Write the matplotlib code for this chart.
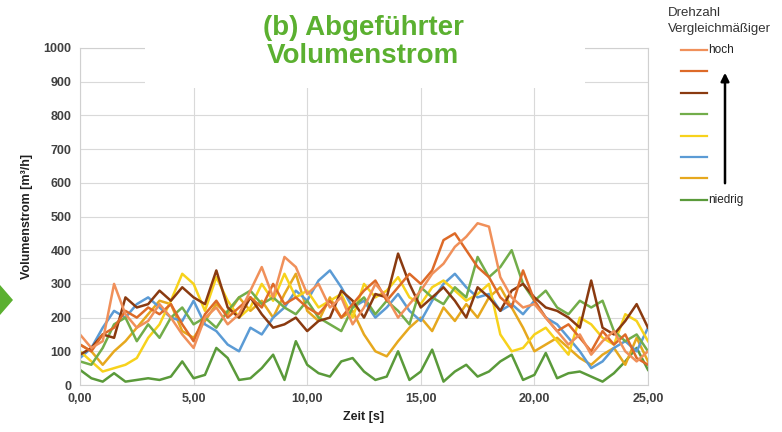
import matplotlib
matplotlib.use('Agg')
import matplotlib.pyplot as plt
from matplotlib.patches import Rectangle, Polygon, FancyArrowPatch
from matplotlib.lines import Line2D
import numpy as np

plt.rcParams['font.family'] = ['Liberation Sans', 'DejaVu Sans']

# Zeit in s (Schrittweite 0,5 s)
zeit = np.arange(0, 25.01, 0.5)

# Volumenstrom [m³/h], von hoher zu niedriger Drehzahl
hoch = [150, 110, 130, 300, 210, 170, 190, 240, 200, 150, 110, 200, 230, 180, 210, 280, 350,
        260, 380, 350, 270, 300, 230, 260, 180, 230, 300, 260, 200, 240, 280, 330, 360, 410,
        440, 480, 470, 320, 260, 230, 240, 200, 160, 120, 150, 90, 130, 160, 100, 70, 100]
stufe2 = [120, 100, 150, 170, 220, 200, 230, 210, 240, 180, 130, 210, 250, 200, 230, 260, 230,
          300, 240, 260, 230, 210, 250, 200, 240, 280, 310, 250, 290, 330, 300, 340, 430, 450,
          400, 350, 320, 260, 230, 340, 250, 200, 160, 180, 140, 100, 160, 120, 150, 80, 60]
stufe3 = [90, 110, 150, 140, 260, 230, 240, 280, 250, 290, 260, 240, 340, 230, 200, 260, 210,
          170, 180, 200, 160, 190, 200, 280, 250, 200, 270, 260, 390, 300, 230, 260, 290, 250,
          200, 290, 260, 220, 280, 300, 260, 230, 220, 200, 170, 310, 170, 150, 190, 240, 170]
stufe4 = [70, 60, 110, 180, 200, 130, 180, 140, 200, 230, 180, 200, 170, 220, 260, 280, 240,
          260, 230, 210, 250, 200, 180, 160, 230, 260, 210, 250, 220, 180, 290, 260, 240, 290,
          260, 380, 320, 350, 400, 300, 250, 280, 230, 210, 250, 230, 250, 160, 130, 150, 100]
stufe5 = [100, 70, 40, 50, 60, 80, 140, 180, 250, 330, 300, 220, 320, 250, 200, 230, 300,
          250, 330, 260, 280, 230, 250, 270, 200, 300, 260, 280, 320, 260, 240, 290, 310, 280,
          250, 270, 300, 150, 100, 110, 150, 170, 130, 90, 200, 180, 140, 120, 210, 190, 130]
stufe6 = [80, 110, 170, 220, 200, 240, 260, 230, 200, 190, 250, 180, 160, 120, 100, 170, 150,
          200, 230, 280, 250, 310, 340, 290, 230, 250, 200, 230, 270, 220, 190, 250, 300, 330,
          290, 260, 270, 220, 240, 210, 250, 200, 180, 140, 100, 50, 70, 110, 130, 100, 170]
stufe7 = [120, 100, 60, 100, 130, 170, 210, 250, 240, 160, 140, 190, 240, 210, 260, 220, 250,
          200, 270, 330, 220, 190, 260, 200, 220, 150, 100, 85, 130, 170, 200, 160, 230, 190,
          240, 200, 260, 290, 230, 170, 100, 120, 140, 110, 80, 60, 90, 110, 60, 140, 70]
niedrig = [45, 20, 10, 35, 10, 15, 20, 15, 25, 70, 20, 30, 110, 80, 15, 20, 50, 90, 15, 130,
           60, 35, 25, 70, 80, 40, 15, 25, 100, 15, 40, 105, 10, 40, 60, 25, 40, 70, 90, 15, 30,
           95, 20, 35, 40, 25, 10, 35, 70, 110, 45]

reihen = [hoch, stufe2, stufe3, stufe4, stufe5, stufe6, stufe7, niedrig]
farben = ['#F0905A', '#DD6A28', '#8A3A10', '#72AD4A', '#F7D21C', '#5B9BD5', '#E6A81E', '#5A9A3A']

W, H = 782, 432
fig = plt.figure(figsize=(W / 100, H / 100), dpi=100)
ax = fig.add_axes([80 / W, 1 - 385 / H, (648 - 80) / W, (385 - 48) / H])

# in umgekehrter Reihenfolge zeichnen, damit "hoch" oben liegt
for werte, farbe in list(zip(reihen, farben))[::-1]:
    ax.plot(zeit, werte, color=farbe, lw=1.8)

ax.set_xlim(0, 25)
ax.set_ylim(0, 1000)
ax.set_xticks([0, 5, 10, 15, 20, 25])
ax.set_xticklabels(['0,00', '5,00', '10,00', '15,00', '20,00', '25,00'])
ax.set_yticks(range(0, 1001, 100))
ax.tick_params(length=0, labelsize=9, labelcolor='#404040', pad=6)
for lbl in ax.get_xticklabels() + ax.get_yticklabels():
    lbl.set_fontweight('bold')
ax.grid(color='#D9D9D9', lw=0.8)
ax.set_axisbelow(True)
for s in ax.spines.values():
    s.set_color('#D0D0D0')
    s.set_linewidth(0.8)
ax.set_xlabel('Zeit [s]', fontsize=9, fontweight='bold', color='#202020', labelpad=4)
ax.set_ylabel('Volumenstrom [m³/h]', fontsize=9, fontweight='bold', color='#202020', labelpad=8)

# Titel mit weissem Hintergrund
fig.patches.append(Rectangle((145 / W, 1 - 88 / H), 440 / W, 88 / H, transform=fig.transFigure,
                             facecolor='white', edgecolor='none', zorder=5))
fig.text(363 / W, 1 - 42 / H, '(b) Abgeführter\nVolumenstrom', ha='center', va='center',
         fontsize=20, fontweight='bold', color='#5BB030', linespacing=1.1, zorder=6)

# grünes Dreieck links
fig.patches.append(Polygon([(0, 1 - 285 / H), (13 / W, 1 - 300 / H), (0, 1 - 315 / H)],
                           closed=True, transform=fig.transFigure, facecolor='#5BB030',
                           edgecolor='none'))

# Legende
fig.text(668 / W, 1 - 13 / H, 'Drehzahl', fontsize=9.5, color='#333333', va='center')
fig.text(668 / W, 1 - 29 / H, 'Vergleichmäßiger', fontsize=9.5, color='#333333', va='center')
for i, farbe in enumerate(farben):
    y = 1 - (50 + 21.4 * i) / H
    fig.lines.append(Line2D([681 / W, 707 / W], [y, y], transform=fig.transFigure,
                            color=farbe, lw=1.6))
fig.text(708 / W, 1 - 50 / H, 'hoch', fontsize=8.5, color='#222222', va='center')
fig.text(708 / W, 1 - 200 / H, 'niedrig', fontsize=8.5, color='#222222', va='center')
fig.patches.append(FancyArrowPatch((725 / W, 1 - 186 / H), (725 / W, 1 - 70 / H),
                                   transform=fig.transFigure, arrowstyle='-|>',
                                   mutation_scale=12, color='black', lw=1.8))

fig.savefig('out.png', dpi=100)
plt.close(fig)
